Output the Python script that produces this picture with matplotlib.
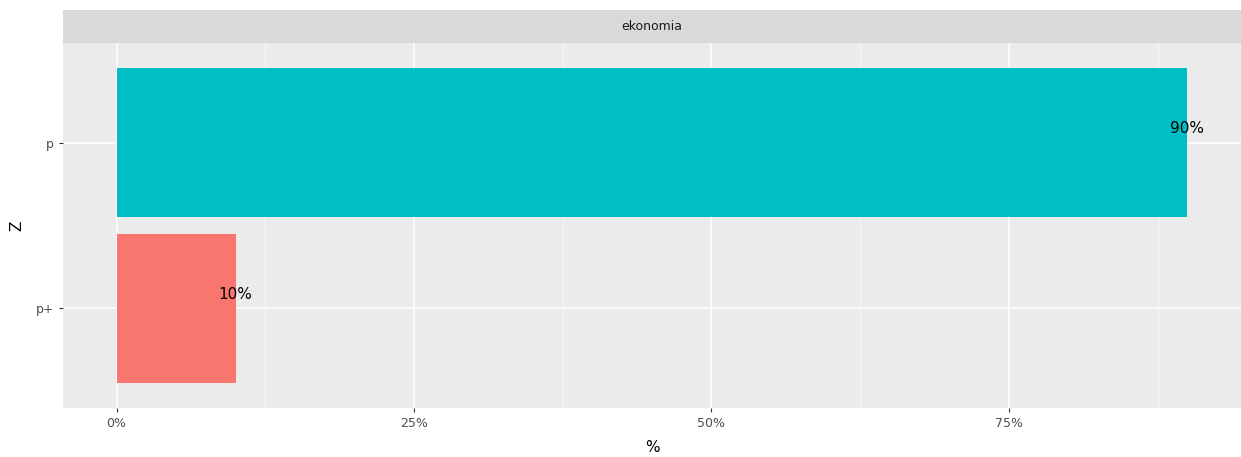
import matplotlib.pyplot as plt

# dane
kategorie = ['p+', 'p']
wartosci = [0.10, 0.90]
kolory = ['#F8766D', '#00BFC4']
etykiety = ['10%', '90%']
panel = 'ekonomia'

fig = plt.figure(figsize=(12.41, 4.57), dpi=100)
W, H = 1241, 457
ax = fig.add_axes([63 / W, (H - 408) / H, (1241 - 63) / W, (408 - 43) / H])
ax.set_facecolor('#EBEBEB')

y = list(range(len(kategorie)))
ax.barh(y, wartosci, height=0.9, color=kolory, zorder=3)
for yi, v, t in zip(y, wartosci, etykiety):
    ax.annotate(t, (v, yi), xytext=(0, 10), textcoords='offset points',
                ha='center', va='center', fontsize=11, color='black', zorder=4)

ax.set_xlim(-0.045, 0.945)
ax.set_ylim(-0.6, 1.6)
ax.set_xticks([0, 0.25, 0.5, 0.75])
ax.set_xticklabels(['0%', '25%', '50%', '75%'])
ax.set_xticks([0.125, 0.375, 0.625, 0.875], minor=True)
ax.set_yticks(y)
ax.set_yticklabels(kategorie)
ax.grid(True, which='major', color='white', linewidth=1.1, zorder=0)
ax.grid(True, which='minor', axis='x', color='white', linewidth=0.5, zorder=0)
for s in ax.spines.values():
    s.set_visible(False)
ax.tick_params(which='major', length=3, color='#333333', labelcolor='#4D4D4D', labelsize=9)
ax.tick_params(which='minor', length=0)
ax.set_xlabel('%', fontsize=11, labelpad=7)
ax.set_ylabel('Z', fontsize=11, labelpad=8)

# pasek z nazwą panelu
pasek = fig.add_axes([63 / W, (H - 43) / H, (1241 - 63) / W, 33 / H])
pasek.set_facecolor('#D9D9D9')
pasek.set_xticks([])
pasek.set_yticks([])
for s in pasek.spines.values():
    s.set_visible(False)
pasek.text(0.5, 0.5, panel, ha='center', va='center', fontsize=9, color='#1A1A1A',
           transform=pasek.transAxes)

fig.savefig('out.png', dpi=100)
